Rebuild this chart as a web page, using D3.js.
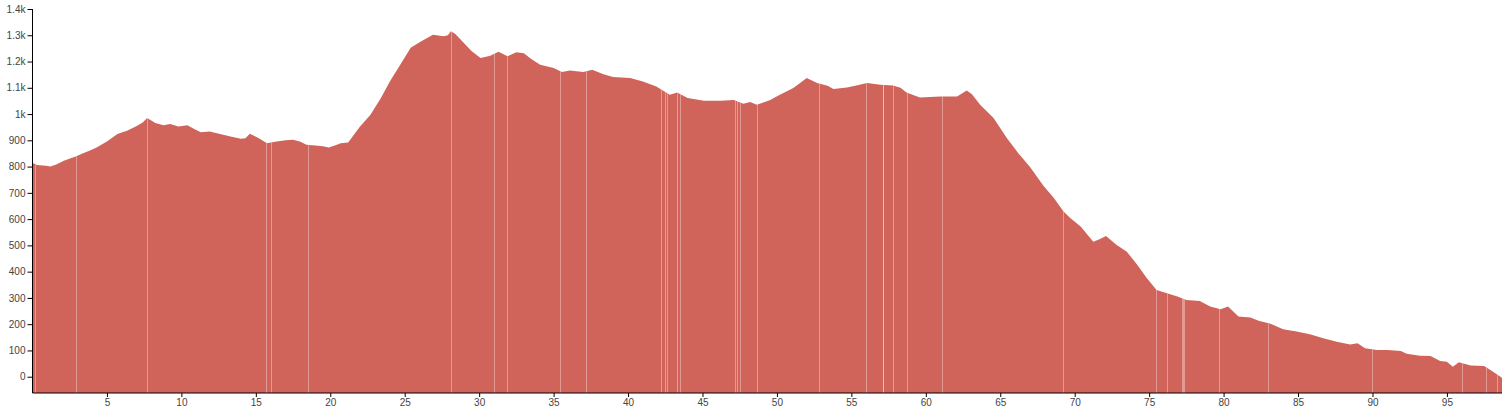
<!DOCTYPE html>
<html>
<head>
<meta charset="utf-8">
<script src="https://cdn.jsdelivr.net/npm/d3@7"></script>
<style>
  html, body { margin: 0; padding: 0; background: #fff; }
  svg { display: block; }
  .axis text { font-family: "Liberation Sans", Arial, sans-serif; font-size: 10px; fill: #444; }
  .axis path, .axis line { stroke: #000; }
</style>
</head>
<body>
<svg id="chart" width="1505" height="410"></svg>
<script>
// Distance along route (km)
const distances = [0,0.3,0.9,1.2,1.6,2.1,2.9,3.4,3.9,4.3,5.0,5.7,6.35,7.0,7.4,7.7,8.25,8.8,9.25,9.8,10.4,10.8,11.3,11.9,12.6,13.3,14.0,14.3,14.6,15.2,15.75,16.4,17.0,17.5,18.0,18.4,19.0,19.5,19.9,20.4,20.7,21.2,21.6,22.0,22.7,23.4,24.0,24.7,25.4,26.0,26.5,26.9,27.6,27.9,28.1,28.4,28.8,29.5,30.1,30.75,31.3,31.9,32.5,33.0,33.5,34.1,35.0,35.56,36.1,37.0,37.6,38.35,39.0,40.15,41.0,41.9,42.8,43.3,44.0,45.1,46.2,47.1,47.75,48.2,48.65,49.55,50.2,51.1,51.6,52.0,52.7,53.4,53.8,54.7,55.4,56.05,56.95,57.8,58.3,58.7,59.6,60.96,62.1,62.75,63.1,63.65,64.55,65.45,66.2,67.0,67.9,68.6,69.25,69.7,70.4,71.25,71.7,72.1,72.8,73.5,74.2,74.85,75.5,76.2,76.9,77.5,78.4,79.1,79.8,80.3,81.0,81.8,82.4,83.1,84.0,84.9,85.8,86.7,87.6,88.5,89.0,89.5,90.3,91.0,91.9,92.3,93.2,93.9,94.55,95.0,95.4,95.8,96.6,97.5,98.0,98.6,98.7];
// Elevation (m)
const elevations = [815,806,803,800,808,822,838,851,862,873,896,924,936,955,968,985,966,957,962,953,957,945,931,934,924,915,906,908,925,908,889,896,900,902,895,883,880,877,873,882,889,892,922,953,997,1061,1124,1188,1252,1273,1290,1302,1296,1300,1315,1305,1281,1239,1213,1222,1237,1220,1235,1232,1210,1188,1175,1160,1166,1160,1169,1152,1141,1137,1124,1105,1074,1082,1061,1051,1051,1054,1039,1046,1035,1054,1074,1099,1120,1137,1118,1108,1095,1101,1110,1118,1112,1109,1100,1082,1063,1067,1067,1090,1075,1035,985,908,852,798,727,680,629,604,572,514,524,536,502,476,426,375,330,318,305,292,288,267,257,267,229,225,212,203,181,172,162,146,133,123,127,108,102,102,98,87,80,79,60,57,38,55,43,41,23,0,-5];
// Light seams in the profile (km)
const seams = [0.14,2.94,7.7,15.68,16.0,18.5,28.1,31.0,31.9,35.45,37.2,42.2,42.45,42.6,43.3,43.5,47.2,47.35,47.5,48.65,52.8,55.97,57.1,57.15,57.8,58.73,61.12,69.2,75.45,76.2,77.2,77.3,77.35,79.7,83.0,90.0,96.0,97.6,98.35];
// Tick values
const xTicks = [5,10,15,20,25,30,35,40,45,50,55,60,65,70,75,80,85,90,95];
const yTicks = [0,100,200,300,400,500,600,700,800,900,1000,1100,1200,1300,1400];

const data = distances.map((d, i) => ({ d, e: elevations[i] }));

const W = 1505, H = 410;
const margin = { top: 9, right: 3, bottom: 17, left: 32.5 };

const svg = d3.select("#chart");
const x = d3.scaleLinear().domain([0, 98.7]).range([margin.left, W - margin.right]);
const y = d3.scaleLinear().domain([-62, 1400]).range([H - margin.bottom, margin.top]);

const area = d3.area()
  .x(p => x(p.d))
  .y0(y(-62))
  .y1(p => y(p.e));

svg.append("clipPath").attr("id", "profileClip")
  .append("path").datum(data).attr("d", area);

svg.append("path")
  .datum(data)
  .attr("d", area)
  .attr("fill", "#d0645a");

svg.append("g")
  .attr("clip-path", "url(#profileClip)")
  .selectAll("line")
  .data(seams)
  .join("line")
  .attr("x1", d => Math.round(x(d)) + 0.5)
  .attr("x2", d => Math.round(x(d)) + 0.5)
  .attr("y1", y(1400))
  .attr("y2", y(-62))
  .attr("stroke", "#fff")
  .attr("stroke-opacity", 0.35)
  .attr("stroke-width", 1);

const xAxis = d3.axisBottom(x).tickValues(xTicks).tickSize(4).tickPadding(2).tickFormat(d3.format("d"));
svg.append("g")
  .attr("class", "axis")
  .attr("transform", `translate(0,${H - margin.bottom})`)
  .call(xAxis)
  .call(g => g.select(".domain").attr("d", `M${x(0)},0H${x(98.7)}`));

const yAxis = d3.axisLeft(y).tickValues(yTicks).tickSize(5).tickPadding(2).tickFormat(d3.format("~s"));
svg.append("g")
  .attr("class", "axis")
  .attr("transform", `translate(${margin.left},0)`)
  .call(yAxis)
  .call(g => g.select(".domain").attr("d", `M0,${y(1400)}V${y(-62)}`));
</script>
</body>
</html>
